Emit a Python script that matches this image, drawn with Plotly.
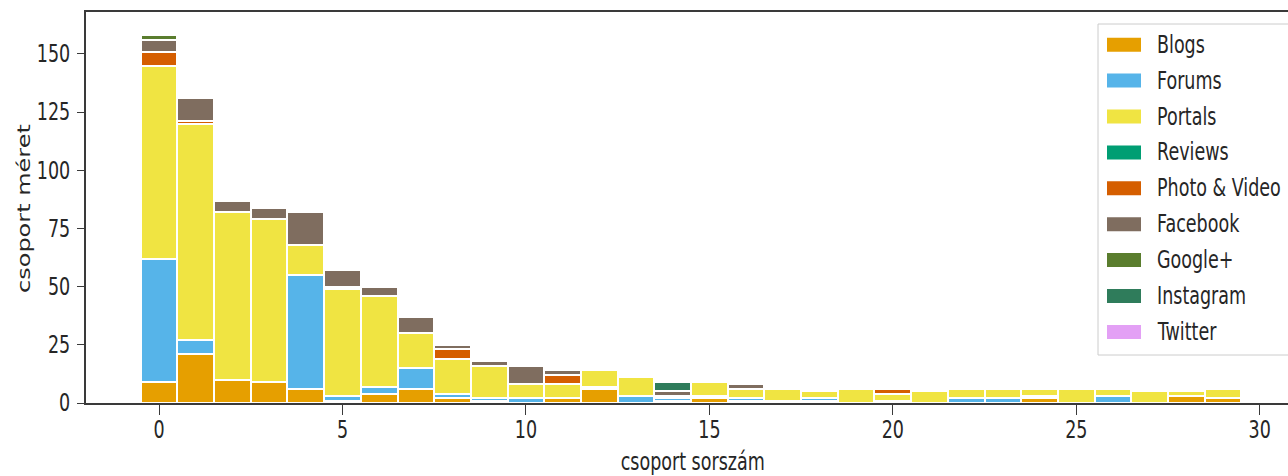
import json
import plotly.graph_objects as go

# group index on the x axis
groups = list(range(30))

series_names = ["Blogs", "Forums", "Portals", "Reviews", "Photo & Video",
                "Facebook", "Google+", "Instagram", "Twitter"]
series_colors = ["#E69F00", "#56B4E9", "#F0E442", "#009E73", "#D55E00",
                 "#7F6D5F", "#5A7D2E", "#2F7C5B", "#E3A0F5"]

# group sizes per source type
blogs       = [9, 21, 10, 9, 6, 1, 4, 6, 2, 1, 0, 2, 6, 0, 1,
               2, 1, 1, 1, 0, 1, 0, 0, 0, 2, 0, 0, 0, 3, 2]
forums      = [53, 6, 0, 0, 49, 2, 3, 9, 2, 1, 2, 0, 1, 3, 1,
               1, 1, 0, 1, 0, 0, 0, 2, 2, 1, 0, 3, 0, 0, 0]
portals     = [83, 93, 72, 70, 13, 46, 39, 15, 15, 14, 6, 6, 7, 8, 1,
               6, 4, 5, 3, 6, 3, 5, 4, 4, 3, 6, 3, 5, 2, 4]
reviews     = [0] * 30
photo_video = [6, 1, 0, 0, 0, 1, 0, 0, 4, 0, 0, 4, 0, 0, 0,
               0, 0, 0, 0, 0, 2, 0, 0, 0, 0, 0, 0, 0, 0, 0]
facebook    = [5, 10, 5, 5, 14, 7, 4, 7, 2, 2, 8, 2, 0, 0, 2,
               0, 2, 0, 0, 0, 0, 0, 0, 0, 0, 0, 0, 0, 0, 0]
google_plus = [2, 0, 0, 0, 0, 0, 0, 0, 0, 0, 0, 0, 0, 0, 0,
               0, 0, 0, 0, 0, 0, 0, 0, 0, 0, 0, 0, 0, 0, 0]
instagram   = [0, 0, 0, 0, 0, 0, 0, 0, 0, 0, 0, 0, 0, 0, 4,
               0, 0, 0, 0, 0, 0, 0, 0, 0, 0, 0, 0, 0, 0, 0]
twitter     = [0] * 30

series_values = [blogs, forums, portals, reviews, photo_video,
                 facebook, google_plus, instagram, twitter]

x_ticks = [0, 5, 10, 15, 20, 25, 30]
y_ticks = [0, 25, 50, 75, 100, 125, 150]

x_title = "csoport sorszám"
y_title = "csoport méret"

# page geometry
W, H = 1288, 476
ML, MR, MT, MB = 86, 0, 12, 73
PW = W - ML - MR
PH = H - MT - MB
PLOT_BOTTOM = H - MB

FONT = "DejaVu Sans, sans-serif"
FONT_SIZE = 24
TEXT_COLOR = "#262626"
AXIS_COLOR = "#3a3a3a"
TEXT_SQUEEZE = 0.73   # horizontal squeeze applied to every text label

fig = go.Figure()
for name, color, vals in zip(series_names, series_colors, series_values):
    fig.add_trace(go.Bar(
        x=groups,
        y=[v if v else None for v in vals],
        name=name,
        width=1,
        marker=dict(color=color, line=dict(color="white", width=2)),
        showlegend=False,
    ))


def paper_x(px):
    return (px - ML) / PW


def paper_y(py):
    return (PLOT_BOTTOM - py) / PH


label_font = dict(family=FONT, size=FONT_SIZE, color=TEXT_COLOR)

# legend box, drawn by hand so swatches are wide rectangles
shapes = [dict(
    type="rect", xref="paper", yref="paper",
    x0=paper_x(1098), x1=paper_x(1330), y0=paper_y(355), y1=paper_y(24),
    line=dict(color="#cccccc", width=1), fillcolor="rgba(255,255,255,0.85)",
    layer="above",
)]
annotations = []
squeeze_anchor = []   # point each annotation keeps fixed when squeezed
row0, step = 44.7, 35.9
for i, (name, color) in enumerate(zip(series_names, series_colors)):
    cy = row0 + step * i
    shapes.append(dict(
        type="rect", xref="paper", yref="paper",
        x0=paper_x(1107), x1=paper_x(1141),
        y0=paper_y(cy + 7), y1=paper_y(cy - 7),
        line=dict(width=0), fillcolor=color, layer="above",
    ))
    annotations.append(dict(
        xref="paper", yref="paper", x=paper_x(1155), y=paper_y(cy),
        text=name, showarrow=False, xanchor="left", yanchor="middle",
        font=label_font,
    ))
    squeeze_anchor.append("left")

# axis titles
annotations.append(dict(
    xref="paper", yref="paper", x=paper_x(692), y=paper_y(462),
    text=x_title, showarrow=False, xanchor="center", yanchor="middle",
    font=label_font,
))
squeeze_anchor.append("center")
annotations.append(dict(
    xref="paper", yref="paper", x=paper_x(24), y=paper_y(209),
    text=y_title, showarrow=False, xanchor="center", yanchor="middle",
    textangle=-90, font=label_font,
))
squeeze_anchor.append("center")

fig.update_layout(
    width=W, height=H,
    margin=dict(l=ML, r=MR, t=MT, b=MB, pad=0),
    paper_bgcolor="white", plot_bgcolor="white",
    barmode="stack", bargap=0,
    shapes=shapes, annotations=annotations,
    showlegend=False,
    xaxis=dict(
        range=[-1.99, 30.77], tickmode="array", tickvals=x_ticks,
        ticks="outside", ticklen=10, tickwidth=1.3, tickcolor=AXIS_COLOR,
        showline=True, linecolor=AXIS_COLOR, linewidth=2, mirror=True,
        showgrid=False, zeroline=False,
        tickfont=label_font, ticklabelstandoff=-6,
    ),
    yaxis=dict(
        range=[0, 168], tickmode="array", tickvals=y_ticks,
        ticks="outside", ticklen=7, tickwidth=1.3, tickcolor=AXIS_COLOR,
        showline=True, linecolor=AXIS_COLOR, linewidth=2, mirror=False,
        showgrid=False, zeroline=False,
        tickfont=label_font, ticklabelstandoff=2,
    ),
)

# Narrow every text horizontally (in screen space) around its anchor point.
squeeze_js = """
(function () {
  var gd = document.getElementById('{plot_id}');
  var s = %s;
  var annAnchor = %s;
  var svg = gd.querySelector('svg.main-svg');
  gd.querySelectorAll('svg text').forEach(function (t) {
    if (!t.textContent) return;
    var r = t.getBoundingClientRect();
    if (!r.width) return;
    var mode;
    var ann = t.closest('g.annotation');
    if (ann) {
      mode = annAnchor[+ann.getAttribute('data-index')] || 'center';
    } else {
      var a = t.getAttribute('text-anchor') || 'start';
      mode = a === 'end' ? 'right' : (a === 'start' ? 'left' : 'center');
    }
    var ax = mode === 'left' ? r.left : (mode === 'right' ? r.right : r.left + r.width / 2);
    var M = t.parentNode.getScreenCTM();
    var S = svg.createSVGMatrix();
    S.a = s; S.e = ax * (1 - s);
    var L = M.inverse().multiply(S).multiply(M);
    var prev = t.getAttribute('transform') || '';
    t.setAttribute('transform', 'matrix(' + [L.a, L.b, L.c, L.d, L.e, L.f].join(',') + ') ' + prev);
  });
})();
""" % (TEXT_SQUEEZE, json.dumps(squeeze_anchor))

fig.write_html("out.html", post_script=squeeze_js)
